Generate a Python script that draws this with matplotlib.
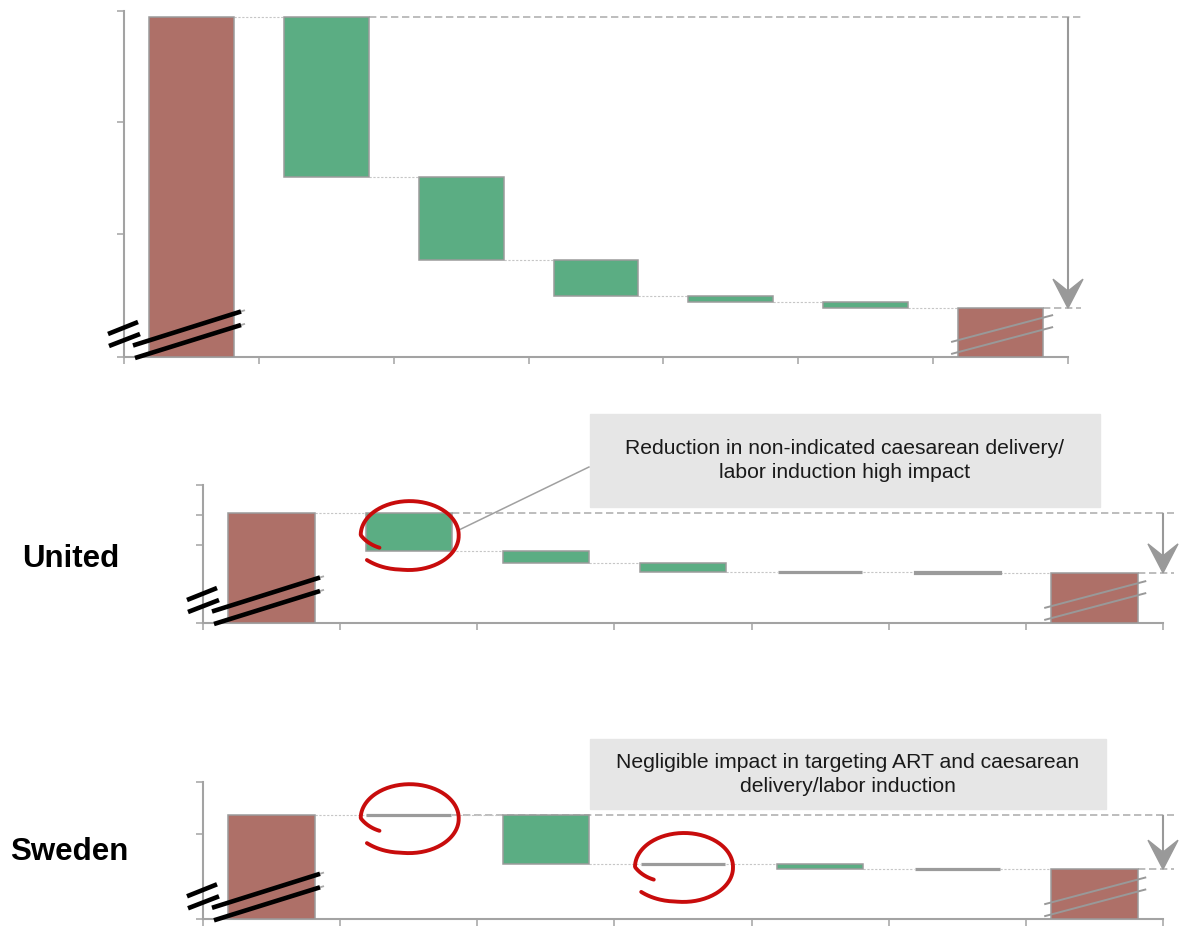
import numpy as np
import matplotlib.pyplot as plt
from matplotlib.lines import Line2D
from matplotlib.patches import Polygon, Rectangle
from matplotlib.transforms import IdentityTransform

plt.rcParams['font.family'] = ['Liberation Sans', 'DejaVu Sans']

W, H, DPI = 1183, 927, 100

BROWN = '#ae7068'
GREEN = '#5bad83'
EDGE = '#9b9b9b'
AXIS = '#a3a3a3'
DASH = '#ababab'
RED = '#c80c0c'

# waterfall values (arbitrary units, y axis is broken)
top_start = 29.5
top_drops = [14.4, 7.5, 3.2, 0.55, 0.55]
top_ylim = (-1.09, 30)
top_yticks = [10, 20, 30]

uk_start = 11.06
uk_drops = [1.26, 0.41, 0.28, 0.02, 0.02]
uk_ylim = (7.4, 12)
uk_yticks = [10, 11, 12]

se_start = 5.36
se_drops = [0.01, 0.93, 0.01, 0.085, 0.01]
se_ylim = (3.35, 6)
se_yticks = [5, 6]

uk_circled = [1]
se_circled = [1, 3]

uk_label = 'United'
se_label = 'Sweden'
uk_note = 'Reduction in non-indicated caesarean delivery/\nlabor induction high impact'
se_note = 'Negligible impact in targeting ART and caesarean\ndelivery/labor induction'

BW = 0.63

fig = plt.figure(figsize=(W / DPI, H / DPI), dpi=DPI)


def px_axes(x0, y0, x1, y1):
    # pixel box (top-left origin) -> axes
    return fig.add_axes([x0 / W, (H - y1) / H, (x1 - x0) / W, (y1 - y0) / H])


def seg(pts, color, lw, z=5):
    xs, ys = zip(*pts)
    fig.add_artist(Line2D(xs, ys, color=color, lw=lw, transform=IdentityTransform(),
                          solid_capstyle='butt', zorder=z))


def waterfall(ax, start, drops, ylim, yticks, ext):
    y0 = ylim[0]
    n = len(drops) + 2
    ax.bar(0, start - y0, BW, bottom=y0, color=BROWN, edgecolor=EDGE, lw=1.1, zorder=3)
    level = start
    for i, d in enumerate(drops, start=1):
        if d >= 0.05:
            ax.bar(i, d, BW, bottom=level - d, color=GREEN, edgecolor=EDGE, lw=1.1, zorder=3)
        else:
            # negligible change: just a thick grey bar outline
            ax.bar(i, d, BW * 0.98, bottom=level - d, color=EDGE, edgecolor=EDGE, lw=2.3,
                   zorder=3)
        ax.plot([i - 1 + BW / 2, i - BW / 2], [level, level], color='#c6c6c6', lw=0.8,
                ls=(0, (2, 1.5)), zorder=2)
        level -= d
    final = level
    ax.bar(n - 1, final - y0, BW, bottom=y0, color=BROWN, edgecolor=EDGE, lw=1.1, zorder=3)
    ax.plot([n - 2 + BW / 2, n - 1 - BW / 2], [final, final], color='#c6c6c6', lw=0.8,
            ls=(0, (2, 1.5)), zorder=2)
    xr = n - 0.5
    ax.plot([1 + BW / 2, xr + ext], [start, start], color=DASH, lw=1.1,
            ls=(0, (4.8, 2.4)), zorder=1, clip_on=False)
    ax.plot([n - 1 + BW / 2, xr + ext], [final, final], color=DASH, lw=1.1,
            ls=(0, (4.8, 2.4)), zorder=1, clip_on=False)

    ax.set_xlim(-0.5, xr)
    ax.set_ylim(*ylim)
    ax.set_xticks(np.arange(-0.5, n, 1))
    ax.set_yticks([y0] + yticks)
    ax.tick_params(length=5, width=1.1, color=AXIS, labelleft=False, labelbottom=False)
    for s in ['top', 'right']:
        ax.spines[s].set_visible(False)
    for s in ['left', 'bottom']:
        ax.spines[s].set_color(AXIS)
        ax.spines[s].set_linewidth(1.5)

    # arrow start -> final at the right end
    xa, ya = ax.transData.transform((xr, start))
    _, yb = ax.transData.transform((xr, final))
    seg([(xa, ya), (xa, yb + 17)], '#999999', 1.5)
    fig.add_artist(Polygon([(xa, yb), (xa - 15, yb + 29), (xa, yb + 17), (xa + 15, yb + 29)],
                           closed=True, color='#999999', transform=IdentityTransform(), zorder=5))

    # axis break marks
    ox, oy = ax.transAxes.transform((0, 0))
    for (a, b), (c, d) in [((-16, 23), (14, 35)), ((-15, 11), (16, 23))]:
        seg([(ox + a, oy + b), (ox + c, oy + d)], 'black', 3.3)
    for (a, b), (c, d), e in [((9, 11.5), (117, 45.5), 46.8), ((11, -1), (117, 32), 33.2)]:
        seg([(ox + a, oy + b), (ox + 121, oy + e)], '#aaaaaa', 1.3, z=4)
        seg([(ox + a, oy + b), (ox + c, oy + d)], 'black', 3.3)
    fx, fy = ax.transData.transform((n - 1 - BW / 2, y0))
    for (a, b), (c, d) in [((-7, 15), (95, 42)), ((-7, 3), (95, 30))]:
        seg([(fx + a, fy + b), (fx + c, fy + d)], '#999999', 1.4)
    return ax


def spiral(ax, i, start, drops):
    level = start - sum(drops[:i - 1])
    cx, cy = ax.transData.transform((i, level - drops[i - 1] / 2))
    cx, cy = cx + 1, cy - 3
    ang = np.radians(np.linspace(211, -140, 200))
    r = np.interp(np.degrees(ang), [-140, -100, 0, 90, 180, 211], [1.14, 1.03, 1.0, 1.0, 1.0, 0.72])
    xs = cx + 49 * r * np.cos(ang)
    ys = cy + 34 * r * np.sin(ang)
    fig.add_artist(Line2D(xs, ys, color=RED, lw=2.8, transform=IdentityTransform(),
                          solid_capstyle='round', zorder=6))
    return cx, cy


ax1 = px_axes(124, 11, 1068, 357)
waterfall(ax1, top_start, top_drops, top_ylim, top_yticks, 0.1)

ax2 = px_axes(203, 485, 1163, 623)
waterfall(ax2, uk_start, uk_drops, uk_ylim, uk_yticks, 0.08)

ax3 = px_axes(203, 781.7, 1163, 919.3)
waterfall(ax3, se_start, se_drops, se_ylim, se_yticks, 0.08)

for i in uk_circled:
    cx, cy = spiral(ax2, i, uk_start, uk_drops)
seg([(cx + 49, cy + 5), (589.6, H - 466.7)], '#a0a0a0', 1.1)
for i in se_circled:
    spiral(ax3, i, se_start, se_drops)

# note boxes
for (x0, y0, x1, y1), note in [((589.6, 414, 1100, 507.3), uk_note),
                               ((589.6, 739.3, 1106, 809.3), se_note)]:
    fig.add_artist(Rectangle((x0, H - y1), x1 - x0, y1 - y0, color='#e6e6e6',
                             transform=IdentityTransform(), zorder=1))
    fig.text((x0 + x1) / 2 / W, (H - (y0 + y1) / 2) / H, note, ha='center', va='center',
             fontsize=15.2, color='#1a1a1a', linespacing=1.35)

fig.text(22 / W, (H - 566.7) / H, uk_label, fontsize=22.5, fontweight='bold', va='baseline')
fig.text(10 / W, (H - 860) / H, se_label, fontsize=22.5, fontweight='bold', va='baseline')

fig.savefig('out.png', dpi=DPI)
